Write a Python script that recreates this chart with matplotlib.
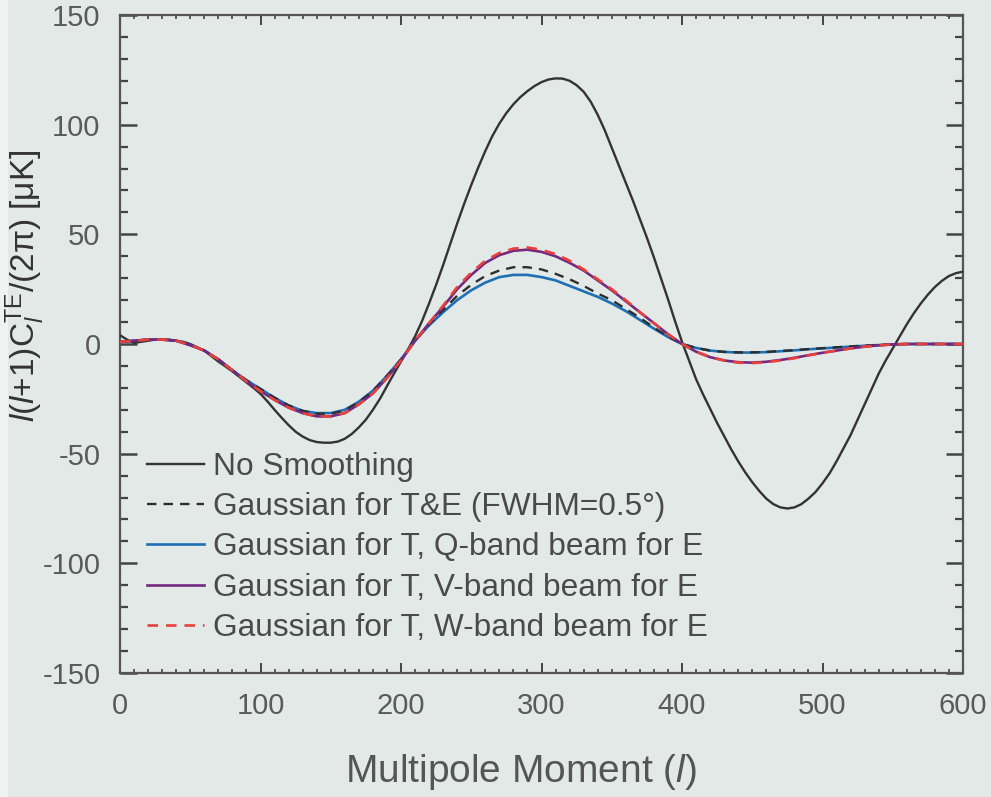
import matplotlib
matplotlib.use("Agg")
import matplotlib.pyplot as plt
from matplotlib.patches import Rectangle

plt.rcParams['font.family'] = ['Liberation Sans', 'DejaVu Sans']
plt.rcParams['mathtext.fontset'] = 'custom'
plt.rcParams['mathtext.rm'] = 'Liberation Sans'
plt.rcParams['mathtext.it'] = 'Liberation Sans:italic'
plt.rcParams['axes.unicode_minus'] = False

# Multipole moments (fine grid for the unsmoothed spectrum)
ell_fine = list(range(0, 605, 5))
no_smoothing = [4, 2, 0.5, 1, 1.5, 2, 2, 2, 1.5, 1,
                0, -1.5, -3, -5.5, -8, -10.2, -12.5, -15, -17.5, -20,
                -22.7, -26.2, -30, -33.6, -37, -40, -42.2, -43.8, -44.7, -45,
                -45, -44.5, -43.2, -41, -38, -34.5, -30, -25, -19.2, -13.5,
                -8, -2.5, 3.5, 10.5, 18.5, 27, 36, 45.5, 55, 64,
                72.5, 80.5, 88, 94.8, 100.5, 105.3, 109.3, 112.6, 115.3, 117.6,
                119.4, 120.6, 121.1, 121, 120, 118, 115, 110.5, 104.5, 97.5,
                89.5, 81.5, 73.5, 65.5, 57, 48.5, 39.5, 30, 20.5, 10.5,
                1, -7.5, -16, -23, -29.5, -36, -42, -48, -53.5, -58.5,
                -63, -67, -70.5, -73, -74.5, -75, -74.5, -73, -70.5, -67.5,
                -63.5, -59, -53.5, -47.5, -41.5, -34.5, -27.5, -20.5, -13.5, -7.5,
                -2, 3.5, 9, 14, 18.5, 22.5, 26, 28.8, 31, 32.3, 33]

# Multipole moments (grid for the smoothed spectra)
ell = list(range(0, 610, 10))

gauss_te = [1, 1.5, 2, 2, 1.5, -0.5, -3, -7, -12, -16.5,
            -20.5, -24.5, -28, -30.5, -31.8, -31.8, -30.3, -26.5, -21.5, -14.5,
            -7, 1.5, 9, 15.5, 22, 27, 31, 33.5, 35, 35,
            34, 32, 29.5, 26.5, 23, 20, 16, 12, 7.5, 3.5,
            0, -1.8, -3, -3.6, -3.8, -3.8, -3.6, -3.2, -2.8, -2.3,
            -1.9, -1.5, -1.1, -0.7, -0.4, -0.2, 0, 0, 0, 0, 0]

q_band = [1, 1.5, 2, 2, 1.5, -0.5, -3, -7, -12, -16.5,
          -20.5, -24.5, -28, -30.5, -31.5, -31.5, -30, -26.3, -21.3, -14.5,
          -7, 1.5, 8.5, 14.5, 20, 24.5, 28, 30.5, 31.5, 31.5,
          30.5, 29, 26.5, 24, 21.5, 18.5, 15, 11, 7, 3.2,
          0, -1.8, -3, -3.6, -3.9, -3.9, -3.7, -3.3, -2.9, -2.4,
          -2, -1.6, -1.2, -0.8, -0.5, -0.2, 0, 0, 0, 0, 0]

v_band = [1, 1.5, 2, 2, 1.5, -0.5, -3, -7, -12, -17,
          -21.5, -25.5, -29, -31.5, -33, -33, -31.5, -27.5, -22.5, -15.5,
          -7.5, 1.5, 9.5, 17, 25, 31.5, 37, 40.5, 42.5, 43,
          42, 40, 37, 33.5, 29, 24.5, 19.5, 14.5, 9.5, 4.5,
          0, -3.5, -6, -7.5, -8.3, -8.5, -8.1, -7.3, -6.3, -5.1,
          -4, -3, -2, -1.2, -0.6, -0.2, 0, 0, 0, 0, 0]

w_band = [1, 1.5, 2, 2, 1.5, -0.5, -3, -7, -12, -17,
          -21.5, -25.5, -29, -31.5, -33, -33, -31.5, -27.5, -22.5, -15.5,
          -7.5, 1.5, 9.5, 17.5, 26, 32.5, 38, 41.5, 43.5, 44,
          43, 41, 38, 34, 29.5, 25, 20, 14.5, 9.5, 4.5,
          0, -3.5, -6, -7.5, -8.5, -8.7, -8.3, -7.5, -6.5, -5.2,
          -4, -3, -2, -1.2, -0.6, -0.2, 0, 0, 0, 0, 0]

labels = ["No Smoothing",
          "Gaussian for T&E (FWHM=0.5\u00b0)",
          "Gaussian for T, Q-band beam for E",
          "Gaussian for T, V-band beam for E",
          "Gaussian for T, W-band beam for E"]

xticks = [0, 100, 200, 300, 400, 500, 600]
yticks = [-150, -100, -50, 0, 50, 100, 150]

bg = '#e3e9e6'
fig = plt.figure(figsize=(9.91, 7.97), dpi=100, facecolor=bg)
fig.patches.append(Rectangle((0, 0), 8 / 991, 1, transform=fig.transFigure,
                             facecolor='#f0f3f2', edgecolor='none', zorder=-1))
ax = fig.add_axes([120 / 991, 1 - 673 / 797, 843 / 991, 658 / 797])
ax.set_facecolor(bg)

l0, = ax.plot(ell_fine, no_smoothing, color='#333333', lw=1.7, zorder=3, label=labels[0])
l2, = ax.plot(ell, q_band, color='#1f6fb5', lw=1.9, zorder=3, label=labels[2])
l1, = ax.plot(ell, gauss_te, color='#2e2e2e', lw=1.7, ls=(0, (4, 3)), zorder=4, label=labels[1])
l3, = ax.plot(ell, v_band, color='#74297f', lw=1.9, zorder=4, label=labels[3])
l4, = ax.plot(ell, w_band, color='#e8413c', lw=1.9, ls=(0, (4, 3)), zorder=5, label=labels[4])

ax.set_xlim(0, 600)
ax.set_ylim(-150, 150)
ax.set_xticks(xticks)
ax.set_xticklabels([str(v) for v in xticks])
ax.set_xticks(range(0, 601, 10), minor=True)
ax.set_yticks(yticks)
ax.set_yticklabels([str(v) for v in yticks])
ax.set_yticks(range(-150, 151, 10), minor=True)

for s in ax.spines.values():
    s.set_color('#555555')
    s.set_linewidth(1.6)

ax.tick_params(axis='both', which='both', direction='in', top=True, right=True,
               color='#444444', labelcolor='#5a5a5a', labelsize=21)
ax.tick_params(axis='y', which='major', length=12, width=1.8, pad=14)
ax.tick_params(axis='y', which='minor', length=6, width=1.6)
ax.tick_params(axis='x', which='major', length=7, width=1.4, pad=14)
ax.tick_params(axis='x', which='minor', length=3, width=1.2)

ax.set_xlabel("Multipole Moment ($\\mathit{l}$)", fontsize=28, color='#555555')
ax.xaxis.set_label_coords((521 - 120) / 843, (673 - 752) / 658)

fig.text(4 / 991, 1 - 150 / 797,
         "$\\mathit{l}$($\\mathit{l}$+1)C$_{\\mathit{l}}^{\\mathrm{TE}}$/(2\u03c0) [\u03bcK]",
         rotation=90, ha='left', va='top', fontsize=24, color='#333333')

leg = ax.legend(handles=[l0, l1, l2, l3, l4], labels=labels, loc='lower left',
                bbox_to_anchor=(0.032, 0.045), frameon=False, fontsize=22.8,
                handlelength=1.8, handletextpad=0.3, labelspacing=0.33,
                borderpad=0, borderaxespad=0)
for t in leg.get_texts():
    t.set_color('#4a4a4a')

fig.savefig("out.png", dpi=100, facecolor=bg)
